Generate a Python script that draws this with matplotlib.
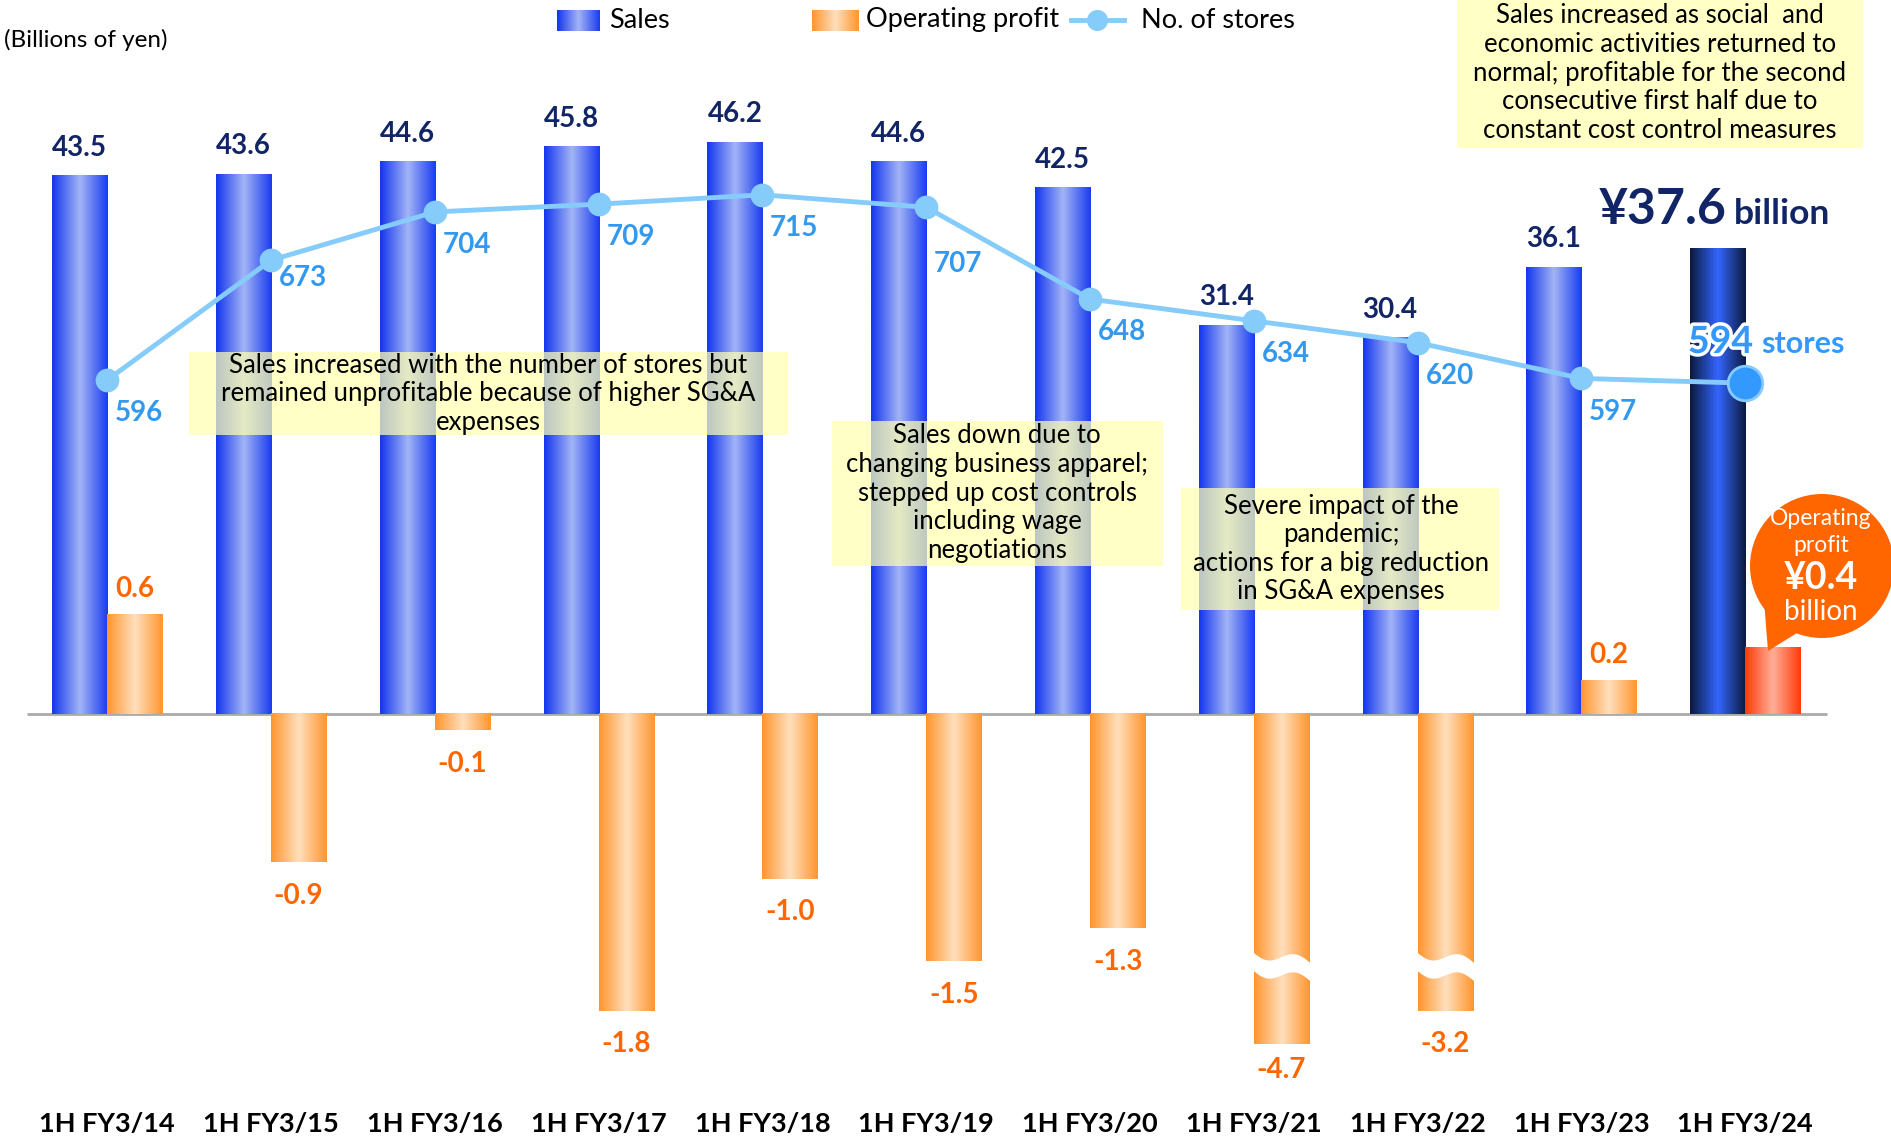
import numpy as np
import matplotlib
matplotlib.use("Agg")
import matplotlib.pyplot as plt
import matplotlib.patheffects as pe
from matplotlib.patches import Rectangle, Ellipse, Polygon
from matplotlib.colors import to_rgb

plt.rcParams['font.family'] = ['Lato', 'DejaVu Sans']

# -------------------- data --------------------
periods = ['1H FY3/14', '1H FY3/15', '1H FY3/16', '1H FY3/17', '1H FY3/18', '1H FY3/19',
           '1H FY3/20', '1H FY3/21', '1H FY3/22', '1H FY3/23', '1H FY3/24']
sales = [43.5, 43.6, 44.6, 45.8, 46.2, 44.6, 42.5, 31.4, 30.4, 36.1, 37.6]
op_profit = [0.6, -0.9, -0.1, -1.8, -1.0, -1.5, -1.3, -4.7, -3.2, 0.2, 0.4]
stores = [596, 673, 704, 709, 715, 707, 648, 634, 620, 597, 594]
# bars cut by the axis break are drawn shorter than their value
broken_depth = {7: -2.0, 8: -1.8}

# -------------------- style --------------------
W, H = 1891, 1140
navy = '#112566'
orange = '#ff6600'
store_blue = '#3399ee'
line_blue = '#85ccfa'
yellow = '#ffffb0'

sales_stops = ['#1436ee', '#a3b4f6', '#1a3df0']
profit_stops = ['#ff9630', '#ffdfbd', '#ff9630']
last_sales_stops = ['#0c1a3e', '#3366ff', '#0c1a3e']
last_profit_stops = ['#ff3a0a', '#ffae98', '#ff3a0a']

bar_w = 0.336
store_dy = {1: -13, 5: -41}   # label offsets (points) where the default would collide
profit_dy = {7: -19}


def px(x, y):
    return x / W, 1 - y / H


def gradient(stops, n=64):
    cols = np.array([to_rgb(c) for c in stops])
    pos = np.linspace(0, 1, len(stops))
    t = np.linspace(0, 1, n)
    img = np.stack([np.interp(t, pos, cols[:, k]) for k in range(3)], axis=-1)
    return img[np.newaxis, :, :]


def grad_bars(ax, xs, hs, stops_list, zorder=2):
    bars = ax.bar(xs, hs, width=bar_w, color='none', edgecolor='none', zorder=zorder)
    for rect, stops in zip(bars, stops_list):
        x0, y0 = rect.get_x(), rect.get_y()
        x1, y1 = x0 + rect.get_width(), y0 + rect.get_height()
        ax.imshow(gradient(stops), extent=(x0, x1, y0, y1), aspect='auto',
                  interpolation='bicubic', zorder=zorder)
    return bars


fig = plt.figure(figsize=(W / 100, H / 100), dpi=100)
ax = fig.add_axes([0, 0, 1, 1])
ax2 = ax.twinx()
ax3 = ax.twinx()
for a in (ax, ax2, ax3):
    a.set_axis_off()
    a.patch.set_visible(False)

x = np.arange(len(periods))
n = len(periods)

# sales bars
s_stops = [sales_stops] * (n - 1) + [last_sales_stops]
grad_bars(ax, x - bar_w / 2, sales, s_stops)
ax.hlines(0, -0.49, 10.5, color='#aaaaaa', lw=2, zorder=1)
ax.set_xlim(-0.655, 10.89)
ax.set_ylim(-34.41, 57.67)

# operating profit bars
drawn = [broken_depth.get(i, v) for i, v in enumerate(op_profit)]
p_stops = [profit_stops] * (n - 1) + [last_profit_stops]
grad_bars(ax2, x + bar_w / 2, drawn, p_stops)
ax2.set_xlim(-0.655, 10.89)
ax2.set_ylim(-2.582, 4.327)

# wavy break on the cut bars
t = np.linspace(0, 1, 60)
for i in broken_depth:
    xl = i - 0.01
    xr = i + bar_w + 0.01
    xx = xl + (xr - xl) * t
    top = -1.44 - 0.07 * t - 0.035 * np.sin(2 * np.pi * t)
    bot = top - 0.11
    poly = np.vstack([np.column_stack([xx, top]), np.column_stack([xx[::-1], bot[::-1]])])
    ax2.add_patch(Polygon(poly, closed=True, facecolor='white', edgecolor='none', zorder=5))

# stores line
ax3.plot(x, stores, color=line_blue, lw=3.5, zorder=3)
ax3.scatter(x[:-1], stores[:-1], s=260, color=line_blue, zorder=4)
ax3.scatter(x[-1:], stores[-1:], s=620, color='#3399ff', edgecolor='#88ccff', lw=2, zorder=4)
ax3.set_xlim(-0.655, 10.89)
ax3.set_ylim(107.6, 840.2)

# value labels
for i in range(n - 1):
    ax.annotate(f'{sales[i]:.1f}', (x[i] - bar_w / 2, sales[i]), xytext=(0, 20),
                textcoords='offset points', ha='center', va='center',
                fontsize=20, fontweight='bold', color=navy)
    v = op_profit[i]
    d = drawn[i]
    ax2.annotate(f'{v:.1f}', (x[i] + bar_w / 2, d),
                 xytext=(0, 19 if v > 0 else profit_dy.get(i, -24)),
                 textcoords='offset points', ha='center', va='center',
                 fontsize=20, fontweight='bold', color=orange)
    ax3.annotate(f'{stores[i]}', (x[i], stores[i]), xytext=(23, store_dy.get(i, -24)),
                 textcoords='offset points', ha='center', va='center',
                 fontsize=20, fontweight='bold', color=store_blue)

for i, lab in enumerate(periods):
    ax.text(i, 1 - 1124 / H, lab, transform=ax.get_xaxis_transform(), ha='center',
            va='center', fontsize=19.5, fontweight='bold', color='black')

# latest period call-outs
ax3.text(*px(1727, 224), '¥37.6', transform=ax3.transAxes, ha='right', va='baseline',
         fontsize=36, fontweight='bold', color=navy)
ax3.text(*px(1734, 224), 'billion', transform=ax3.transAxes, ha='left', va='baseline',
         fontsize=25.5, fontweight='bold', color=navy)
ax3.text(*px(1753, 353), '594', transform=ax3.transAxes, ha='right', va='baseline',
         fontsize=27, fontweight='bold', color='#3399ff',
         path_effects=[pe.withStroke(linewidth=5, foreground='white')])
ax3.text(*px(1761, 353), 'stores', transform=ax3.transAxes, ha='left', va='baseline',
         fontsize=22, fontweight='bold', color='#3399ff')

# speech bubble
ax3.add_patch(Ellipse(px(1822, 566), 144 / W, 144 / H, transform=ax3.transAxes,
                      facecolor=orange, edgecolor='none', zorder=6))
ax3.add_patch(Polygon([px(1764, 600), px(1768, 651), px(1805, 628)], closed=True,
                      transform=ax3.transAxes, facecolor=orange, edgecolor='none', zorder=6))
for yy, s, fs, fw in [(518, 'Operating', 16.5, 'normal'), (545, 'profit', 16.5, 'normal'),
                      (578, '¥0.4', 27, 'bold'), (612, 'billion', 20, 'normal')]:
    ax3.text(*px(1821, yy), s, transform=ax3.transAxes, ha='center', va='center',
             fontsize=fs, fontweight=fw, color='white', zorder=7)

# commentary boxes
notes = [
    ((189, 352, 788, 435), (488, 394),
     'Sales increased with the number of stores but\nremained unprofitable because of higher SG&A\nexpenses'),
    ((832, 421, 1163, 566), (997, 493),
     'Sales down due to\nchanging business apparel;\nstepped up cost controls\nincluding wage\nnegotiations'),
    ((1181, 488, 1499, 610), (1341, 549),
     'Severe impact of the\npandemic;\nactions for a big reduction\nin SG&A expenses'),
    ((1457, 0, 1863, 148), (1660, 73),
     'Sales increased as social  and\neconomic activities returned to\nnormal; profitable for the second\nconsecutive first half due to\nconstant cost control measures'),
]
for (x0, y0, x1, y1), (tx, ty), s in notes:
    ax3.add_patch(Rectangle(px(x0, y1), (x1 - x0) / W, (y1 - y0) / H, transform=ax3.transAxes,
                            facecolor=yellow, alpha=0.72, edgecolor='none', zorder=8))
    ax3.text(*px(tx, ty), s, transform=ax3.transAxes, ha='center', va='center',
             fontsize=18.5, linespacing=1.18, color='black', zorder=9)

# unit label
ax3.text(*px(4, 40), '(Billions of yen)', transform=ax3.transAxes, ha='left', va='center',
         fontsize=17.5, color='black')


# legend, drawn by hand to keep the uneven spacing of the original
def legend_patch(x0, x1, stops):
    ax3.imshow(gradient(stops), extent=(px(x0, 0)[0], px(x1, 0)[0], px(0, 31)[1], px(0, 10)[1]),
               transform=ax3.transAxes, aspect='auto', interpolation='bicubic', zorder=9)


legend_patch(557, 600, sales_stops)
ax3.text(*px(609, 20), 'Sales', transform=ax3.transAxes, ha='left', va='center', fontsize=19.5)
legend_patch(812, 859, profit_stops)
ax3.text(*px(866, 20), 'Operating profit', transform=ax3.transAxes, ha='left', va='center',
         fontsize=19.5)
ax3.plot([px(1071, 0)[0], px(1124, 0)[0]], [px(0, 20)[1]] * 2, transform=ax3.transAxes,
         color=line_blue, lw=3.5)
ax3.scatter([px(1097, 0)[0]], [px(0, 20)[1]], transform=ax3.transAxes, s=200, color=line_blue)
ax3.text(*px(1141, 20), 'No. of stores', transform=ax3.transAxes, ha='left', va='center',
         fontsize=19.5)

ax3.set_xlim(-0.655, 10.89)
ax3.set_ylim(107.6, 840.2)

fig.savefig('out.png', dpi=100)
